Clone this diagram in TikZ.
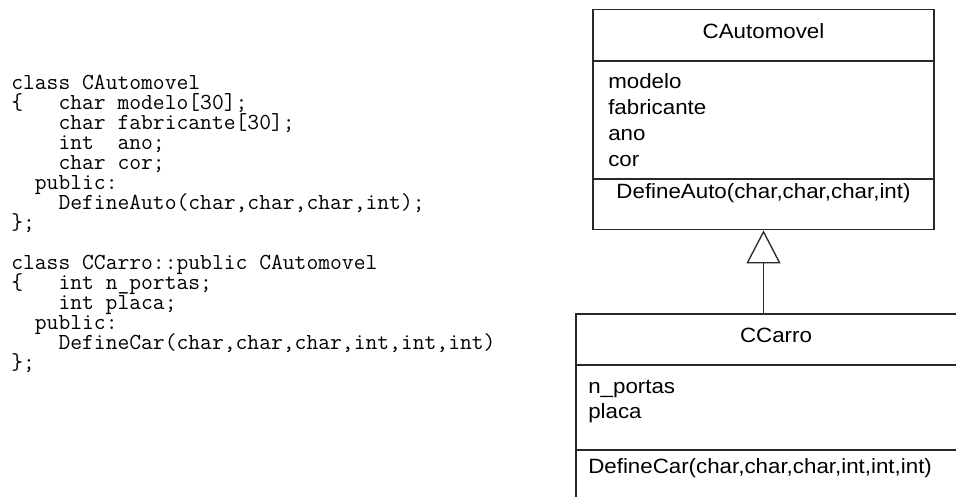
\documentclass[tikz,border=0pt]{standalone}
\usepackage{fontspec}
\newfontfamily\umlfont[FakeStretch=1.08]{Liberation Sans}
\usetikzlibrary{arrows.meta, fit}

\definecolor{LineGray}{RGB}{40,40,40}
\newcommand{\codefont}{\ttfamily\fontsize{17.2}{15}\selectfont
  \lineskiplimit=-30pt\relax\lineskip=0pt\relax}

\tikzset{
  umlbox/.style={draw=LineGray, line width=1pt, inner sep=0pt},
  umltext/.style={font=\umlfont\fontsize{15.5}{20}\selectfont, inner sep=0pt},
  codeblock/.style={font=\codefont, inner sep=0pt, align=left},
  inherit/.style={draw=LineGray, line width=1pt,
    -{Triangle[open, length=24.75pt, width=25.5pt]}}
}

\begin{document}
\begin{tikzpicture}[x=0.75pt, y=-0.75pt]
  \clip (0,0) rectangle (956,496);

  % C++ listing (base = baseline of the last line)
  \node[codeblock, anchor=base west] (code) at (11,369) {%
    class CAutomovel\\
    \{~~~char modelo[30];\\
    ~~~~char fabricante[30];\\
    ~~~~int~~ano;\\
    ~~~~char cor;\\
    ~~public:\\
    ~~~~DefineAuto(char,char,char,int);\\
    \};\\[15pt]
    class CCarro::public CAutomovel\\
    \{~~~int n\_portas;\\
    ~~~~int placa;\\
    ~~public:\\
    ~~~~DefineCar(char,char,char,int,int,int)\\
    \};};

  % base class
  \node[umlbox, fit={(593,9.5) (934,229.7)}] (auto) {};
  \coordinate (auto-a) at (593,61);
  \coordinate (auto-m) at (593,179);
  \draw[umlbox] (auto-a) -- (auto-a -| auto.east);
  \draw[umlbox] (auto-m) -- (auto-m -| auto.east);
  \node[umltext, anchor=base] (auto-name) at (763.5,38) {CAutomovel};
  \foreach \n/\t in {0/modelo, 1/fabricante, 2/ano, 3/cor}
    \node[umltext, anchor=base west] (auto-attr-\n) at (608, 88+26*\n) {\t};
  \node[umltext, anchor=base] (auto-op) at (763.5,198) {DefineAuto(char,char,char,int)};

  % derived class
  \node[umlbox, fit={(576,314) (976,510)}] (carro) {};
  \coordinate (carro-a) at (576,365);
  \coordinate (carro-m) at (576,450);
  \draw[umlbox] (carro-a) -- (carro-a -| carro.east);
  \draw[umlbox] (carro-m) -- (carro-m -| carro.east);
  \node[umltext, anchor=base] (carro-name) at (776,342) {CCarro};
  \foreach \n/\t in {0/n\_portas, 1/placa}
    \node[umltext, anchor=base west] (carro-attr-\n) at (588, 393+25*\n) {\t};
  \node[umltext, anchor=base west] (carro-op) at (588,473) {DefineCar(char,char,char,int,int,int)};

  % generalisation
  \draw[inherit] (auto.south |- carro.north) -- (auto.south);
\end{tikzpicture}
\end{document}
